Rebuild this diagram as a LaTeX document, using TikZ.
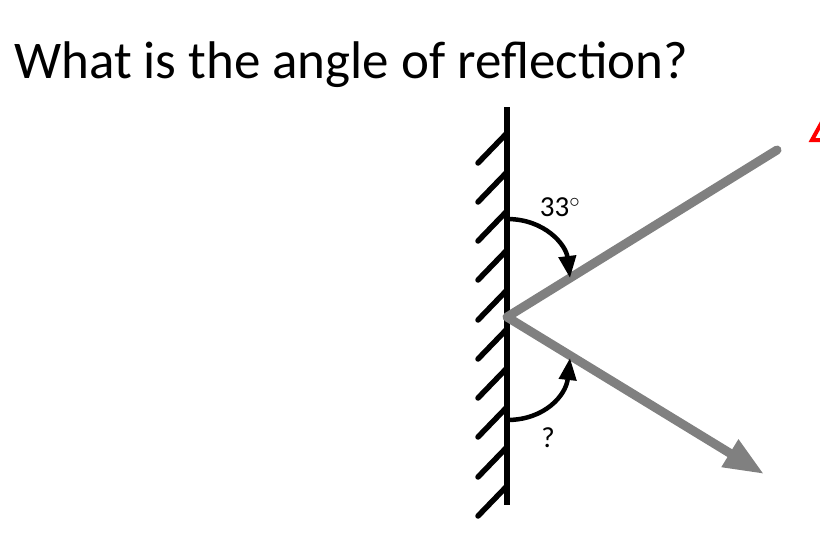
\documentclass[tikz,border=0pt]{standalone}
\usepackage{fontspec}
\setmainfont{Carlito}
\usetikzlibrary{arrows.meta}
\definecolor{raygray}{RGB}{128,128,128}
\begin{document}
\begin{tikzpicture}[
		x=1pt, y=-1pt,
		mirror/.style={line width=6.5pt, draw=black},
		hatch/.style={line width=5.5pt, draw=black, line cap=round},
		ray/.style={line width=9pt, draw=raygray, line cap=round},
		turn/.style={line width=4.5pt, draw=black, -{Triangle[length=22pt,width=17pt]}},
		lbl/.style={font=\fontsize{29}{31}\selectfont}
	]
	\useasboundingbox (0,0) rectangle (820,547);
	\node[anchor=base west, inner sep=0, font=\fontsize{53}{58}\selectfont] (title) at (14,78) {What is the angle of reflection?};
	% mirror with hatching
	\coordinate (mtop) at (507,107);
	\coordinate (mbot) at (507,505);
	\draw[mirror] (mtop) -- (mbot);
	\foreach \y in {133,172,211,250,290,329,368,407,447,486}
		\draw[hatch] (507,\y) -- +(-29,30);
	% rays
	\coordinate (hit) at (507,317);
	\coordinate (src) at (777,150);
	\coordinate (dst) at (764,474);
	\draw[ray] (src) -- (hit);
	\draw[ray, line cap=butt, -{Triangle[length=40pt,width=30pt]}] (hit) -- (dst);
	% angle marks
	\coordinate (a1) at (507,219);
	\coordinate (a2) at (570,278);
	\draw[turn] (a1) .. controls (545,219) and (566,245) .. (a2);
	\node[lbl] (inc) at (560,207) {33$^\circ$};
	\coordinate (b1) at (507,420);
	\coordinate (b2) at (570,358);
	\draw[turn] (b1) .. controls (545,420) and (566,395) .. (b2);
	\node[lbl] (refl) at (548,438) {?};
	% red mark at edge
	\draw[red, line width=4pt] (822,122) -- (812,140) -- (822,140);
\end{tikzpicture}
\end{document}
